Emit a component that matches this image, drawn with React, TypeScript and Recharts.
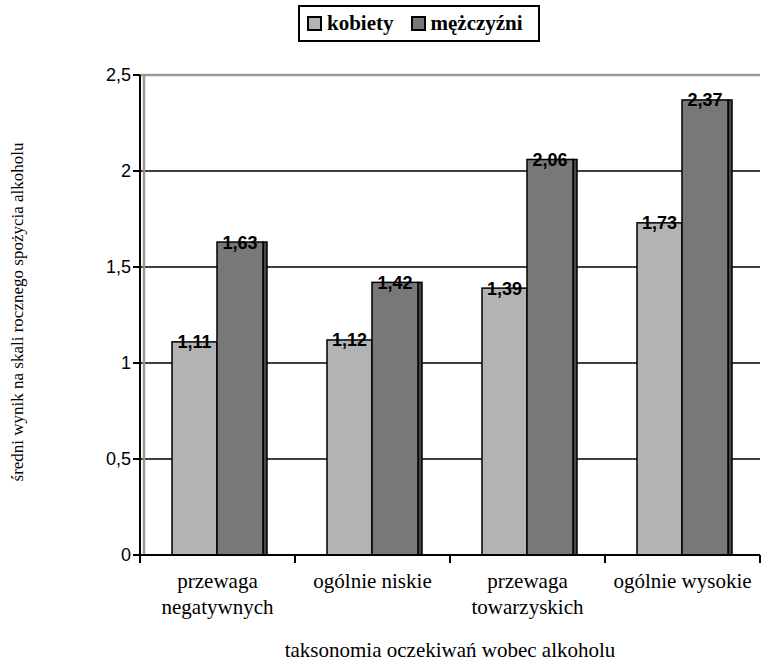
import React from 'react';
import {
  Bar,
  BarChart,
  CartesianGrid,
  LabelList,
  Legend,
  ReferenceLine,
  XAxis,
  YAxis,
} from 'recharts';

const categories = [
  'przewaga\nnegatywnych',
  'ogólnie niskie',
  'przewaga\ntowarzyskich',
  'ogólnie wysokie',
];
const kobiety = [1.11, 1.12, 1.39, 1.73];
const mezczyzni = [1.63, 1.42, 2.06, 2.37];
const yTicks = [0, 0.5, 1, 1.5, 2, 2.5];

const seriesNames = ['kobiety', 'mężczyźni'];
const colors = ['#b3b3b3', '#787878'];
const sideColor = '#484848';

const W = 761;
const H = 668;
const LEGEND_H = 37;
const margin = { top: 75 - LEGEND_H, right: 1, bottom: 53, left: 90 };
const yAxisWidth = 50;
const plotWidth = W - margin.left - margin.right - yAxisWidth;
const band = plotWidth / categories.length;

const SERIF = '"Liberation Serif", "Times New Roman", serif';
const SANS = '"Liberation Sans", Arial, sans-serif';

const fmt = (v: number) => String(v).replace('.', ',');

// tabela dla recharts
const data = categories.map((c, i) => ({
  cat: c,
  k: kobiety[i],
  m: mezczyzni[i],
}));

const SIDE = 4;

function FrontBar(props: any) {
  const { x, y, width, height, fill } = props;
  if (!height) return null;
  return (
    <rect x={x + 2} y={y} width={width} height={height} fill={fill} stroke='#000' strokeWidth={1.5} />
  );
}

// słupek z "bokiem" 3D po prawej stronie
function SideBar(props: any) {
  const { x, y, width, height, fill } = props;
  if (!height) return null;
  return (
    <g transform='translate(2,0)'>
      <rect x={x + width - SIDE} y={y} width={SIDE} height={height} fill={sideColor} stroke='#000' strokeWidth={1.5} />
      <rect x={x} y={y} width={width - SIDE} height={height} fill={fill} stroke='#000' strokeWidth={1.5} />
    </g>
  );
}

const valueLabel = (side: number) => (props: any) => {
  const { x, y, width, value } = props;
  return (
    <text
      x={x + 2 + (width - side) / 2}
      y={y}
      dy={6.5}
      textAnchor='middle'
      fontFamily={SANS}
      fontWeight='bold'
      fontSize={18}
      fill='#000'
    >
      {fmt(value)}
    </text>
  );
};

function CatTick(props: any) {
  const { x, y, payload, index } = props;
  const lines = String(payload.value).split('\n');
  const left = x - band / 2;
  return (
    <g>
      <line x1={left} y1={y - 8} x2={left} y2={y} stroke='#000' strokeWidth={2} />
      {index === categories.length - 1 && (
        <line x1={x + band / 2} y1={y - 8} x2={x + band / 2} y2={y} stroke='#000' strokeWidth={2} />
      )}
      <text x={x} y={y + 25} textAnchor='middle' fontFamily={SERIF} fontSize={21} fill='#000'>
        {lines.map((l, i) => (
          <tspan key={i} x={x} dy={i === 0 ? 0 : 26}>
            {l}
          </tspan>
        ))}
      </text>
    </g>
  );
}

function YTitle(props: any) {
  const vb = props.viewBox;
  const cx = vb.x - 73;
  const cy = vb.y + vb.height / 2 - 3;
  return (
    <text
      x={cx}
      y={cy}
      transform={`rotate(-90, ${cx}, ${cy})`}
      textAnchor='middle'
      dominantBaseline='central'
      fontFamily={SERIF}
      fontSize={17}
      fill='#000'
    >
      średni wynik na skali rocznego spożycia alkoholu
    </text>
  );
}

function XTitle(props: any) {
  const vb = props.viewBox;
  return (
    <text x={vb.x + vb.width / 2} y={657} textAnchor='middle' fontFamily={SERIF} fontSize={21} fill='#000'>
      taksonomia oczekiwań wobec alkoholu
    </text>
  );
}

function LegendBox() {
  return (
    <div
      style={{
        display: 'inline-flex',
        alignItems: 'center',
        boxSizing: 'border-box',
        height: LEGEND_H,
        border: '2px solid #000',
        padding: '0 15px 0 7px',
        fontFamily: SERIF,
        fontWeight: 'bold',
        fontSize: 21,
        lineHeight: '25px',
        background: '#fff',
        whiteSpace: 'nowrap',
      }}
    >
      {seriesNames.map((n, i) => (
        <span key={n} style={{ display: 'flex', alignItems: 'center', marginLeft: i === 0 ? 0 : 17 }}>
          <span
            style={{
              display: 'inline-block',
              boxSizing: 'border-box',
              width: 15,
              height: 15,
              marginRight: 5,
              border: '2px solid #000',
              background: colors[i],
            }}
          />
          {n}
        </span>
      ))}
    </div>
  );
}

export default function App() {
  return (
    <div style={{ position: 'absolute', left: 0, top: 0, width: W, height: H, background: '#fff' }}>
      <BarChart width={W} height={H} data={data} margin={margin} barGap={0}>
        <CartesianGrid vertical={false} stroke='#000' strokeWidth={1.5} />
        <ReferenceLine y={2.5} stroke='#999' strokeWidth={2.5} />
        <ReferenceLine
          x={categories[0]}
          position='start'
          stroke='#999'
          strokeWidth={2.5}
          shape={(p: any) => (
            <line x1={p.x1 + 4} y1={p.y1} x2={p.x2 + 4} y2={p.y2} stroke='#999' strokeWidth={2.5} />
          )}
        />
        <XAxis
          dataKey='cat'
          height={60}
          interval={0}
          axisLine={{ stroke: '#000', strokeWidth: 2 }}
          tickLine={false}
          tick={<CatTick />}
          label={<XTitle />}
        />
        <YAxis
          width={yAxisWidth}
          domain={[0, 2.5]}
          ticks={yTicks}
          tickFormatter={fmt}
          axisLine={{ stroke: '#000', strokeWidth: 2 }}
          tickLine={{ stroke: '#000', strokeWidth: 2 }}
          tickSize={7}
          tick={{ fontFamily: SANS, fontSize: 18, fill: '#000' }}
          label={<YTitle />}
        />
        <Legend
          verticalAlign='top'
          wrapperStyle={{ top: 5, left: 298, width: 'auto' }}
          content={() => <LegendBox />}
        />
        <Bar dataKey='k' name={seriesNames[0]} fill={colors[0]} barSize={45} shape={<FrontBar />} isAnimationActive={false}>
          <LabelList dataKey='k' content={valueLabel(0)} />
        </Bar>
        <Bar dataKey='m' name={seriesNames[1]} fill={colors[1]} barSize={50} shape={<SideBar />} isAnimationActive={false}>
          <LabelList dataKey='m' content={valueLabel(SIDE)} />
        </Bar>
      </BarChart>
    </div>
  );
}
